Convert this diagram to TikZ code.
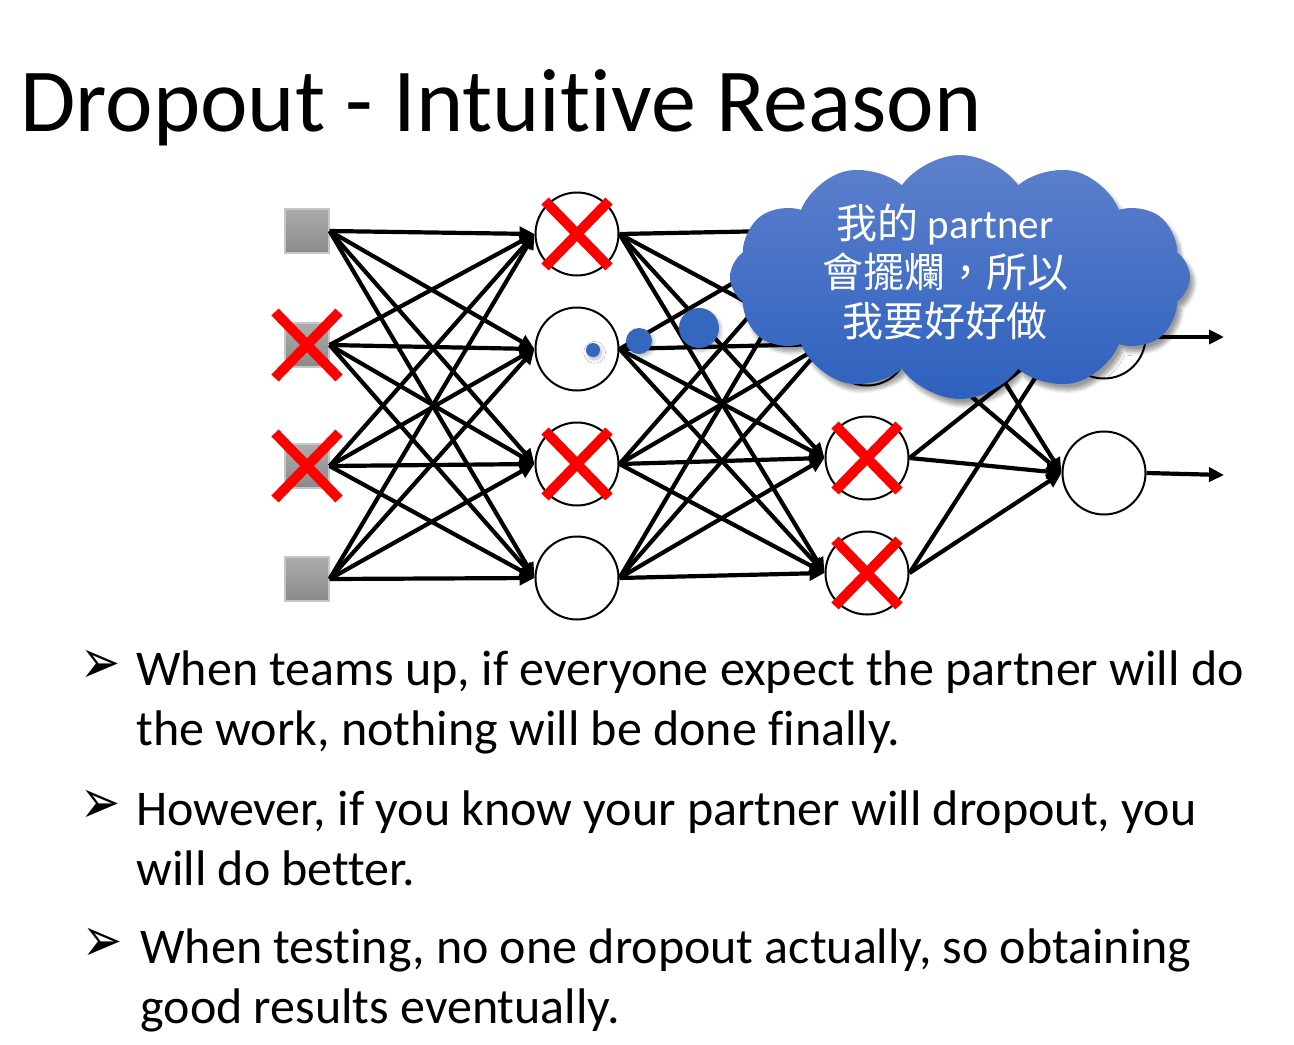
\documentclass[tikz,border=0pt]{standalone}
\usepackage{fontspec}
\setmainfont[Ligatures=NoCommon]{Carlito}
\newfontfamily\cjk{Noto Sans CJK TC}
\newfontfamily\dingfont{DejaVu Sans}
\usetikzlibrary{arrows.meta,shapes.symbols,shadows.blur}

\definecolor{cloudtop}{RGB}{93,128,204}
\definecolor{cloudbot}{RGB}{46,97,190}
\definecolor{bubblue}{RGB}{54,103,190}
\definecolor{inptop}{RGB}{172,172,172}
\definecolor{inpbot}{RGB}{138,138,138}

\tikzset{
  neuron/.style={circle, draw, line width=1pt, minimum size=41.5pt, inner sep=0pt, fill=white},
  inp/.style={rectangle, minimum size=22pt, inner sep=0pt, top color=inptop, bottom color=inpbot, draw=gray!45, line width=0.6pt},
  conn/.style={line width=2.1pt, -{Triangle[length=7.5pt,width=7pt]}},
  xmark/.style={red, line width=5pt},
  bubble/.style={circle, fill=bubblue, inner sep=0pt, blur shadow={shadow xshift=0.8pt, shadow yshift=-1.2pt, shadow blur steps=5, shadow opacity=30}},
  bullettext/.style={anchor=base west, inner sep=0pt, align=left, font=\fontsize{25}{30}\selectfont},
  bulletmark/.style={anchor=base west, inner sep=0pt, yscale=1.3, font=\dingfont\fontsize{24}{24}\selectfont},
}

\newcommand{\dropnode}[1]{%
  \draw[xmark] ([shift={(-32,-33)}]#1.center) -- ([shift={(32,33)}]#1.center)
               ([shift={(-32,33)}]#1.center) -- ([shift={(32,-33)}]#1.center);}

\begin{document}
\begin{tikzpicture}[x=0.5pt,y=-0.5pt]
  \useasboundingbox (0,0) rectangle (1294,1044);

  \node[anchor=base west, inner sep=0pt, font=\fontsize{45}{54}\selectfont] (title) at (20,131) {Dropout - Intuitive Reason};

  % input layer
  \node[inp] (x1) at (307,231) {};
  \node[inp] (x2) at (307,345) {};
  \node[inp] (x3) at (307,466) {};
  \node[inp] (x4) at (307,579) {};

  % first hidden layer
  \node[neuron] (h1) at (577,234) {};
  \node[neuron] (h2) at (577,349) {};
  \node[neuron] (h3) at (577,464) {};
  \node[neuron] (h4) at (577,578) {};

  % second hidden layer
  \node[neuron] (g1) at (867,230) {};
  \node[neuron] (g2) at (867,344) {};
  \node[neuron] (g3) at (867,458) {};
  \node[neuron] (g4) at (867,573) {};

  % output layer
  \node[neuron] (y1) at (1104,337) {};
  \node[neuron] (y2) at (1104,473) {};
  \coordinate (o1) at (1224,337);
  \coordinate (o2) at (1224,475);

  \path (x1.east) edge[conn] (h1.west) edge[conn] (h2.west) edge[conn] (h3.west) edge[conn] (h4.west);
  \path (x2.east) edge[conn] (h1.west) edge[conn] (h2.west) edge[conn] (h3.west) edge[conn] (h4.west);
  \path (x3.east) edge[conn] (h1.west) edge[conn] (h2.west) edge[conn] (h3.west) edge[conn] (h4.west);
  \path (x4.east) edge[conn] (h1.west) edge[conn] (h2.west) edge[conn] (h3.west) edge[conn] (h4.west);

  \path (h1.east) edge[conn] (g1.west) edge[conn] (g2.west) edge[conn] (g3.west) edge[conn] (g4.west);
  \path (h2.east) edge[conn] (g1.west) edge[conn] (g2.west) edge[conn] (g3.west) edge[conn] (g4.west);
  \path (h3.east) edge[conn] (g1.west) edge[conn] (g2.west) edge[conn] (g3.west) edge[conn] (g4.west);
  \path (h4.east) edge[conn] (g1.west) edge[conn] (g2.west) edge[conn] (g3.west) edge[conn] (g4.west);

  \path (g1.east) edge[conn] (y1.west) edge[conn] (y2.west);
  \path (g2.east) edge[conn] (y1.west) edge[conn] (y2.west);
  \path (g3.east) edge[conn] (y1.west) edge[conn] (y2.west);
  \path (g4.east) edge[conn] (y1.west) edge[conn] (y2.west);

  \draw[conn] (y1.east) -- (o1);
  \draw[conn] (y2.east) -- (o2);

  % dropped units
  \dropnode{x2}
  \dropnode{x3}
  \dropnode{h1}
  \dropnode{h3}
  \dropnode{g3}
  \dropnode{g4}

  % thought bubble
  \node[bubble, minimum size=7pt] (dot1) at (593,350) {};
  \node[bubble, minimum size=13pt] (dot2) at (639,341) {};
  \node[bubble, minimum size=20pt] (dot3) at (699,328) {};
  \node[cloud, cloud puffs=12, cloud puff arc=110, aspect=1.9, minimum width=230pt, minimum height=122pt,
        top color=cloudtop, bottom color=cloudbot, inner sep=0pt,
        blur shadow={shadow xshift=2pt, shadow yshift=-3pt, shadow blur steps=8}] (think) at (960,277) {};
  \node[text=white, align=center, font=\fontsize{20.5}{24.5}\selectfont] (say) at (945,272)
    {{\cjk 我的} partner\\{\cjk 會擺爛，所以}\\{\cjk 我要好好做}};

  % bullets
  \node[bulletmark] (m1) at (80,683) {➢};
  \node[bullettext] (t1) at (136,745) {When teams up, if everyone expect the partner will do\\the work, nothing will be done finally.};
  \node[bulletmark] (m2) at (80,823) {➢};
  \node[bullettext] (t2) at (136,885) {However, if you know your partner will dropout, you\\will do better.};
  \node[bulletmark] (m3) at (82,961) {➢};
  \node[bullettext] (t3) at (140,1023) {When testing, no one dropout actually, so obtaining\\good results eventually.};
\end{tikzpicture}
\end{document}
